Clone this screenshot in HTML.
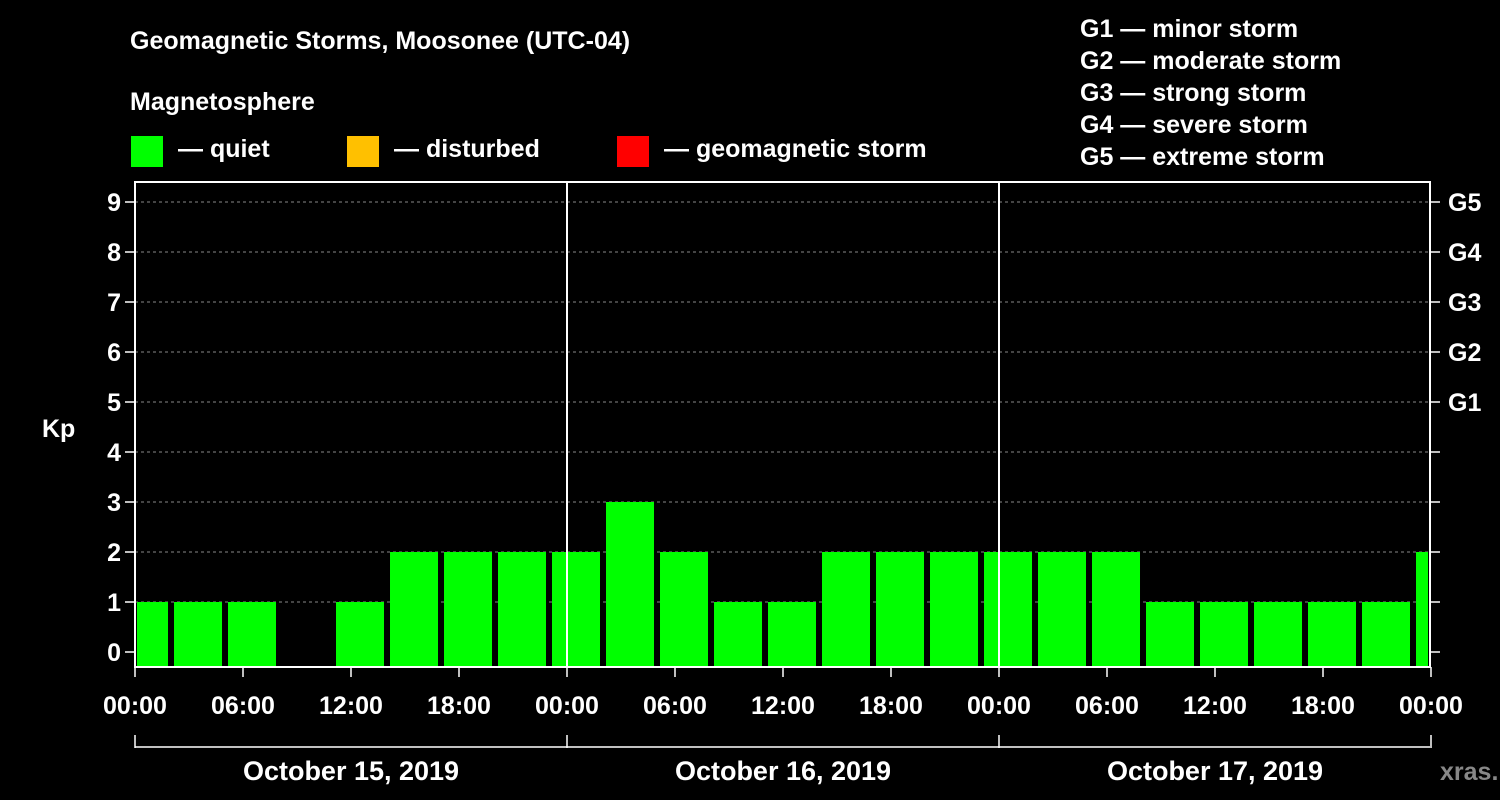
<!DOCTYPE html>
<html><head><meta charset="utf-8"><style>
html,body{margin:0;padding:0;background:#000;}
svg{display:block;font-family:"Liberation Sans",Arial,sans-serif;font-weight:bold;}
</style></head><body>
<svg id="chart" width="1500" height="800" viewBox="0 0 1500 800">
<rect width="1500" height="800" fill="#000"/>
<text x="130" y="49" fill="#fff" font-size="25">Geomagnetic Storms, Moosonee (UTC-04)</text>
<text x="130" y="110" fill="#fff" font-size="25">Magnetosphere</text>
<g><rect x="131" y="136" width="32" height="31" fill="#00ff00"/><text x="178" y="157" fill="#fff" font-size="25">— quiet</text></g>
<g><rect x="347" y="136" width="32" height="31" fill="#ffc000"/><text x="394" y="157" fill="#fff" font-size="25">— disturbed</text></g>
<g><rect x="617" y="136" width="32" height="31" fill="#ff0000"/><text x="664" y="157" fill="#fff" font-size="25">— geomagnetic storm</text></g>
<g fill="#fff" font-size="25">
<text x="1080" y="37">G1 — minor storm</text>
<text x="1080" y="69">G2 — moderate storm</text>
<text x="1080" y="101">G3 — strong storm</text>
<text x="1080" y="133">G4 — severe storm</text>
<text x="1080" y="165">G5 — extreme storm</text>
</g>
<text x="42" y="437" fill="#fff" font-size="25">Kp</text>
<g id="grid"></g><g id="bars"></g><g id="axes"></g>
<text x="1440" y="780" fill="#888" font-size="25">xras.ru</text>
</svg>
<script>
const kpValues = [1,1,1,0,1,2,2,2,2,3,2,1,1,2,2,2,2,2,2,1,1,1,1,1,2];
const yTicks = [0,1,2,3,4,5,6,7,8,9];
const gLabels = ["G1","G2","G3","G4","G5"];
const xTickLabels = ["00:00","06:00","12:00","18:00","00:00","06:00","12:00","18:00","00:00","06:00","12:00","18:00","00:00"];
const dateLabels = ["October 15, 2019","October 16, 2019","October 17, 2019"];

const NS="http://www.w3.org/2000/svg";
const L=135,R=1430,T=182,B=667;
const y=v=>652-50*v;
const xh=h=>L+18*h; // hours from start
function mk(tag,attrs,parent,txt){const e=document.createElementNS(NS,tag);for(const k in attrs)e.setAttribute(k,attrs[k]);if(txt!==undefined)e.textContent=txt;parent.appendChild(e);return e;}
const grid=document.getElementById('grid'),bars=document.getElementById('bars'),axes=document.getElementById('axes');
yTicks.forEach(v=>{if(v>=1){const g=mk('line',{x1:L,x2:R,y1:y(v),y2:y(v),stroke:'#888','stroke-dasharray':'3,3','stroke-width':1},grid);

}});
kpValues.forEach((v,i)=>{if(v<=0)return;
let x0=xh(3*i-0.833)-0;let x1=x0+48;x0=Math.max(x0,L+2);x1=Math.min(x1,R-2);
const c=v>=5?'#ff0000':(v>=4?'#ffc000':'#00ff00');
const r=mk('rect',{x:x0,y:y(v),width:x1-x0,height:B-y(v),fill:c},bars);

});
const f=mk('rect',{x:L,y:T,width:R-L,height:B-T,fill:'none',stroke:'#fff','stroke-width':2},axes);


[1,2].forEach(d=>{const l=mk('line',{x1:xh(24*d),x2:xh(24*d),y1:T,y2:B,stroke:'#fff','stroke-width':2},axes);

});
yTicks.forEach(v=>{mk('line',{x1:L-10,x2:L,y1:y(v),y2:y(v),stroke:'#fff','stroke-width':1.5},axes);
mk('line',{x1:R,x2:R+10,y1:y(v),y2:y(v),stroke:'#fff','stroke-width':1.5},axes);
const t=mk('text',{x:L-14,y:y(v)+9,fill:'#fff','font-size':25,'text-anchor':'end'},axes,String(v));

});
gLabels.forEach((g,i)=>{const t=mk('text',{x:1448,y:y(5+i)+9,fill:'#fff','font-size':25},axes,g);

});
xTickLabels.forEach((s,i)=>{const x=xh(6*i);
mk('line',{x1:x,x2:x,y1:B,y2:B+10,stroke:'#fff','stroke-width':1.5},axes);
const t=mk('text',{x:x,y:714,fill:'#fff','font-size':25,'text-anchor':'middle'},axes,s);

});
const br=mk('line',{x1:L,x2:R,y1:747,y2:747,stroke:'#fff','stroke-width':1.5},axes);


[0,1,2,3].forEach(d=>mk('line',{x1:xh(24*d),x2:xh(24*d),y1:735,y2:748,stroke:'#fff','stroke-width':1.5},axes));
dateLabels.forEach((s,i)=>{const t=mk('text',{x:xh(24*i+12),y:780,fill:'#fff','font-size':27,'text-anchor':'middle'},axes,s);

});
</script>
</body></html>
